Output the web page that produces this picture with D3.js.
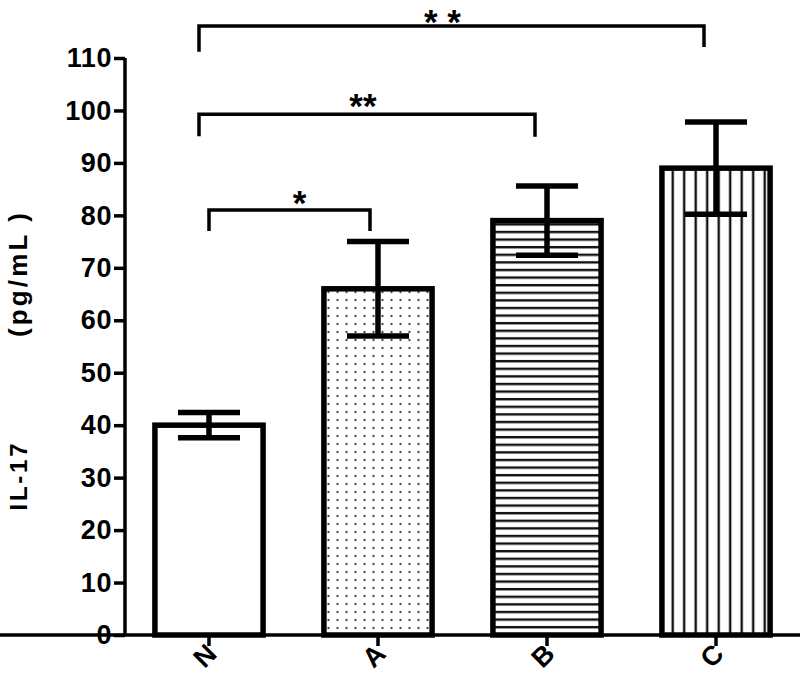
<!DOCTYPE html>
<html><head><meta charset="utf-8">
<script src="https://cdn.jsdelivr.net/npm/d3@7"></script>
<style>
html,body{margin:0;padding:0;background:#fff;}
svg{display:block;}
text{font-family:"Liberation Sans",Arial,"Noto Sans CJK SC",sans-serif;font-weight:bold;fill:#000;}
</style></head>
<body>
<script>
// ---- data ----
const categories = ["N", "A", "B", "C"];
const means = [40, 66, 79, 89];
const errors = [2.4, 9, 6.6, 8.8];
const fills = ["none", "dots", "hlines", "vlines"];
const yTicks = [0,10,20,30,40,50,60,70,80,90,100,110];
// significance brackets: from category, to category, line level, tick-down levels, label
const sigFrom = ["N", "N", "N"];
const sigTo = ["C", "B", "A"];
const sigLevel = [116.1, 99.3, 81.0];
const sigDropL = [111.2, 95.1, 77.0];
const sigDropR = [112.1, 95.0, 77.0];
const sigLabel = ["* *", "**", "*"];

// ---- layout ----
const W = 800, H = 697;
const svg = d3.select("body").append("svg").attr("width", W).attr("height", H);
const x = d3.scaleBand().domain(categories).range([125, 800]).paddingInner(0.36).paddingOuter(0.177);
const y = d3.scaleLinear().domain([0, 110]).range([635, 58]);

const defs = svg.append("defs");
const pd = defs.append("pattern").attr("id","dots").attr("patternUnits","userSpaceOnUse")
  .attr("width",9).attr("height",8);
pd.append("rect").attr("width",9).attr("height",8).attr("fill","#fff");
pd.append("circle").attr("cx",4.5).attr("cy",4).attr("r",1.2).attr("fill","#555");
const ph = defs.append("pattern").attr("id","hlines").attr("patternUnits","userSpaceOnUse")
  .attr("width",10).attr("height",7.6);
ph.append("rect").attr("width",10).attr("height",7.6).attr("fill","#fff");
ph.append("rect").attr("y",2.8).attr("width",10).attr("height",2.4).attr("fill","#111");
const pv = defs.append("pattern").attr("id","vlines").attr("patternUnits","userSpaceOnUse")
  .attr("width",11.5).attr("height",10);
pv.append("rect").attr("width",11.5).attr("height",10).attr("fill","#fff");
pv.append("rect").attr("x",4.5).attr("width",2.4).attr("height",10).attr("fill","#111");

// bars
const data = categories.map((c,i)=>({c, m:means[i], e:errors[i], f:fills[i]}));
svg.append("g").selectAll("rect").data(data).join("rect")
  .attr("x", d=>x(d.c)).attr("width", x.bandwidth())
  .attr("y", d=>y(d.m)).attr("height", d=>y(0)-y(d.m))
  .attr("fill", d=>d.f==="none" ? "#fff" : `url(#${d.f})`)
  .attr("stroke","#000").attr("stroke-width",5.5);

// error bars
const capW = 62;
const eg = svg.append("g").attr("stroke","#000").attr("stroke-width",5.5);
data.forEach(d=>{
  const cx = x(d.c) + x.bandwidth()/2;
  eg.append("line").attr("x1",cx).attr("x2",cx).attr("y1",y(d.m-d.e)).attr("y2",y(d.m+d.e));
  eg.append("line").attr("x1",cx-capW/2).attr("x2",cx+capW/2).attr("y1",y(d.m+d.e)).attr("y2",y(d.m+d.e));
  eg.append("line").attr("x1",cx-capW/2).attr("x2",cx+capW/2).attr("y1",y(d.m-d.e)).attr("y2",y(d.m-d.e));
});

// axes
const yAxis = svg.append("g").attr("transform","translate(125,0)")
  .call(d3.axisLeft(y).tickValues(yTicks).tickSize(11).tickPadding(2));
const xAxis = svg.append("g").attr("transform",`translate(0,${y(0)})`)
  .call(d3.axisBottom(x).tickSize(11).tickFormat(""));
[yAxis, xAxis].forEach(a=>{
  a.select(".domain").attr("stroke","#000").attr("stroke-width",3.5);
  a.selectAll(".tick line").attr("stroke","#000").attr("stroke-width",3.5);
});
yAxis.select(".domain").attr("d", `M0,${y(110)}V${y(0)}`);
xAxis.select(".domain").attr("d", `M0,0H800`);
yAxis.selectAll(".tick text").attr("font-size",27).attr("letter-spacing",0.6)
  .attr("font-family",'"Liberation Sans",Arial,sans-serif').attr("font-weight","bold").attr("fill","#000");

// x labels rotated
svg.append("g").selectAll("text").data(categories).join("text")
  .attr("transform", c=>`translate(${x(c)+x.bandwidth()/2-4},656) rotate(-45)`)
  .attr("text-anchor","middle").attr("dominant-baseline","central")
  .attr("font-size",27).text(c=>c);

// y title
svg.append("text").attr("transform","translate(27,477) rotate(-90)")
  .attr("text-anchor","middle").attr("font-size",24)
  .attr("textLength",67).attr("lengthAdjust","spacing").text("IL-17");
svg.append("text").attr("transform","translate(27,275) rotate(-90)")
  .attr("text-anchor","middle").attr("font-size",26)
  .attr("textLength",124).attr("lengthAdjust","spacing").text("(pg/mL )");

// significance brackets
const starDx = [-9, -4, 10];
const starDy = [-12, -16, -15];
const bg = svg.append("g");
sigFrom.forEach((f,i)=>{
  const xl = x(f) + x.bandwidth()/2 + (i===2 ? 0 : -10);
  const xr = x(sigTo[i]) + x.bandwidth()/2 + (i===2 ? -8 : -12);
  bg.append("path")
    .attr("d", `M${xl},${y(sigDropL[i])}V${y(sigLevel[i])}H${xr}V${y(sigDropR[i])}`)
    .attr("fill","none").attr("stroke","#000").attr("stroke-width",3.5);
  bg.append("text").attr("x",(xl+xr)/2+starDx[i]).attr("y",y(sigLevel[i])+starDy[i]+0.58*35)
    .attr("text-anchor","middle").attr("font-size",35).text(sigLabel[i]);
});
</script>
</body></html>
